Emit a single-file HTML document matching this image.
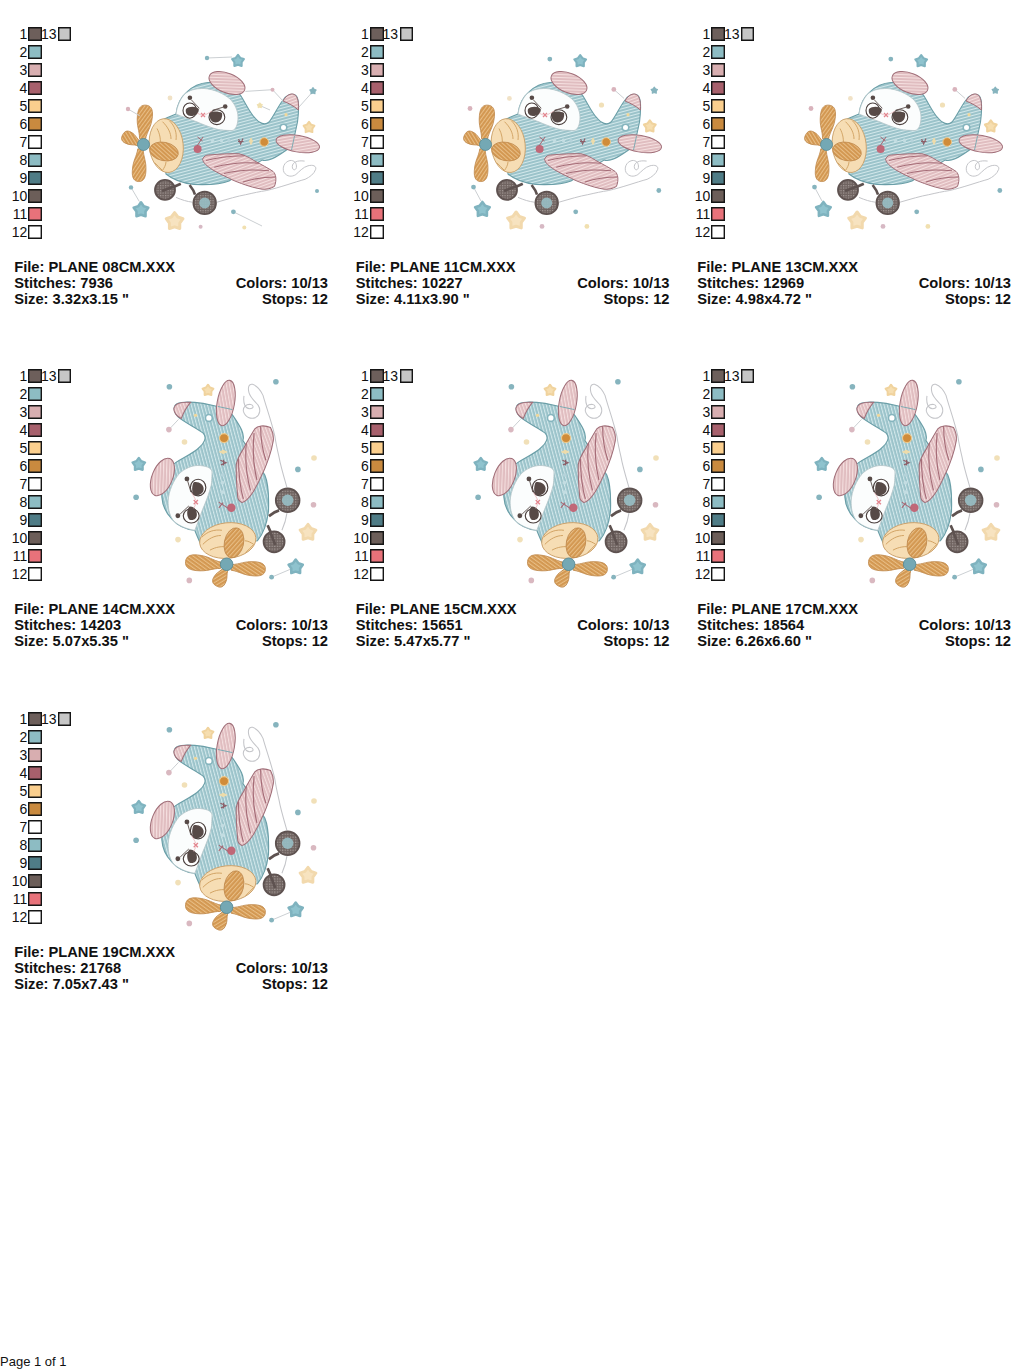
<!DOCTYPE html><html><head><meta charset="utf-8"><style>
html,body{margin:0;padding:0;background:#fff;width:1024px;height:1370px;overflow:hidden;position:relative}
body{font-family:"Liberation Sans",sans-serif;color:#111}
.c{position:absolute;left:0;top:0;width:341px;height:342px}
.sw{position:absolute;width:12px;height:12px;border:1px solid #151515;box-shadow:inset 0 0 0 0.4px #151515}
.n{position:absolute;font-size:14px;line-height:14px;text-align:right;width:20px}
.t{position:absolute;font-weight:bold;font-size:14.7px;line-height:16px;white-space:nowrap}
.r{text-align:right}
svg.p{position:absolute;overflow:visible}
</style></head><body>
<svg width="0" height="0" style="position:absolute">
<defs>
<pattern id="hatT" width="3" height="3" patternUnits="userSpaceOnUse" patternTransform="rotate(-15)">
<rect width="3" height="3" fill="#9bc3ca"/><rect width="3" height="1" fill="#d3e8eb"/>
</pattern>
<pattern id="hatP" width="3" height="3" patternUnits="userSpaceOnUse" patternTransform="rotate(-20)">
<rect width="3" height="3" fill="#e0bdc0"/><rect width="3" height="1" fill="#f5e0e0"/>
</pattern>
<pattern id="hatO" width="3" height="3" patternUnits="userSpaceOnUse" patternTransform="rotate(30)">
<rect width="3" height="3" fill="#d39852"/><rect width="3" height="1" fill="#e8be86"/>
</pattern>
<pattern id="hatW" width="2.5" height="2.5" patternUnits="userSpaceOnUse">
<rect width="2.5" height="2.5" fill="#6f6360"/><rect width="1.2" height="1.2" fill="#a39996"/>
</pattern>
<g id="star"><path d="M0.000,-0.880 L0.321,-0.441 L0.837,-0.272 L0.519,0.169 L0.517,0.712 L0.000,0.546 L-0.517,0.712 L-0.519,0.169 L-0.837,-0.272 L-0.321,-0.441 Z" stroke-linejoin="round" stroke-width="0.3"/></g>
<g id="body">
<!-- string -->
<path d="M176 197.4 C182 200, 187 201.5, 192.4 202.2 M217 202.2 C228 199, 238 196, 245.7 194.7 C253 193, 260 191.5, 266.2 190.6 C280 187.5, 295 182, 305.1 179.3 C310 177, 314 174, 315.7 169.3 C316.5 166, 313 164.5, 308 165.8 C303 167, 299 172, 295.8 174.6 C292 177, 287 177, 284 172.3 C282 168, 284 162, 290 160.5 C294 160, 297 163, 296.4 167.6 C296 170, 292.5 171.5, 292.3 166.4 C292.5 162.5, 297 160, 304.6 161.1" fill="none" stroke="#c4c5c9" stroke-width="1"/>
<!-- propeller blades -->
<g fill="url(#hatO)" stroke="#c08a4e" stroke-width="0.8"><path transform="translate(142.5 139) rotate(-84)" d="M0 -3.0 C8.5 -3.8, 11.9 -7.5, 23.1 -7.5 C31.3 -7.5, 34 -4.5, 34 0 C34 4.5, 31.3 7.5, 23.1 7.5 C11.9 7.5, 8.5 3.8, 0 3.0 Z"/><path transform="translate(139 143.5) rotate(-151.6)" d="M0 -2.5 C4.6 -3.1, 6.5 -6.2, 12.6 -6.2 C17.0 -6.2, 18.5 -3.8, 18.5 0 C18.5 3.8, 17.0 6.2, 12.6 6.2 C6.5 6.2, 4.6 3.1, 0 2.5 Z"/><path transform="translate(140.5 149) rotate(93.6)" d="M0 -2.7 C8.2 -3.4, 11.4 -6.8, 22.2 -6.8 C30.0 -6.8, 32.6 -4.0, 32.6 0 C32.6 4.0, 30.0 6.8, 22.2 6.8 C11.4 6.8, 8.2 3.4, 0 2.7 Z"/></g>
<!-- fuselage -->
<path d="M160 121 C166 118, 171 116, 176 114 C177 106, 181 97, 187 92 C193 86, 200 83, 208 82.5 C222 82, 236 88, 241 96 C246 104, 250 113, 255 118 C259 123, 265 126, 269 122 C274 116, 279 104, 285 97.5 C289 93.5, 295 93, 297 97 C299 101, 299 110, 297.5 122 L294.5 136 C293 144, 291 148, 286.5 150 C275 158, 268 162, 262 160 L229 181 C220 185, 208 185, 194 184.5 C182 183, 172 179, 166 174 Z" fill="url(#hatT)" stroke="#6a9ea7" stroke-width="1.1"/>
<!-- face -->
<path d="M176 114 C177 106, 181 97, 186 93 C192 89, 198 88.5, 204 88.5 C214 89, 224 94, 230 99 C235 104, 238 111, 238 117 C238 124, 236 130, 232 130.5 C226 130.5, 220 130, 218.6 129.6 C212 128, 204 125, 196 121.5 C189 119, 182 116.5, 176 114 Z" fill="#fbfdfd" stroke="#b4c4c8" stroke-width="0.8"/>
<!-- eyes -->
<g stroke="#4a3f3d" stroke-width="1.1" fill="#fff">
<ellipse cx="189.8" cy="110.6" rx="6.8" ry="7.6"/><ellipse cx="216.9" cy="117.2" rx="7.9" ry="7.4"/>
</g>
<g fill="#574a47">
<path d="M186 109 C189 106, 196 106, 198.8 109 C199 114, 195 116, 191 116 C187 116, 185 113, 186 109Z"/>
<path d="M209.5 113 C212 111, 219 111, 222 113 C223 118, 220 122.5, 215.5 122.5 C211 122.5, 209 118, 209.5 113Z"/>
<circle cx="189.9" cy="97.8" r="2.3"/><circle cx="225.2" cy="106.5" r="2.3"/>
</g>
<path d="M191.5 100 L199.3 108.3 M223.2 107.2 L212.5 110.3" stroke="#5d504d" stroke-width="0.9"/>
<path d="M201 113 L205 117 M201 117 L205 113" stroke="#e3868f" stroke-width="1.3" fill="none"/><path d="M197 113 L201 115 M205 115 L212 111" stroke="#eab3b8" stroke-width="0.7" fill="none"/>
<!-- cowling -->
<ellipse cx="166.2" cy="145.6" rx="17" ry="27" transform="rotate(-6 166.2 145.6)" fill="#f6ddb4" stroke="#caa06a" stroke-width="0.9"/>
<path d="M157 128.5 C160 134, 161 140, 160 146 M162.5 121.7 C168 127, 171 133, 171 139 M169.3 120.7 C175 126, 177 133, 176 140 M154.6 162.7 C157 165, 160 168, 162.5 170.5 M166 161.8 C166 165, 164 168, 162.5 170.5" stroke="#cf9f5f" stroke-width="0.9" fill="none"/>
<!-- right blade + hub -->
<ellipse cx="164" cy="151.5" rx="14.5" ry="9.2" transform="rotate(12 164 151.5)" fill="url(#hatO)" stroke="#c08a4e" stroke-width="0.8"/>
<circle cx="143.5" cy="144.5" r="6" fill="#74a8b4" stroke="#548996" stroke-width="0.8"/>
<!-- hat -->
<ellipse cx="227" cy="83" rx="19" ry="9.8" transform="rotate(22 227 83)" fill="url(#hatP)" stroke="#a06e78" stroke-width="1"/>
<!-- tail tip -->
<path d="M283 101 C285 97, 289 93.5, 292.7 94 C297 94.5, 299 100, 298.4 110 C294 106, 288 103, 283 101 Z" fill="url(#hatP)" stroke="#a06e78" stroke-width="1"/>
<!-- stabilizer -->
<ellipse cx="297.8" cy="143.7" rx="22" ry="8.3" transform="rotate(10 297.8 143.7)" fill="url(#hatP)" stroke="#a06e78" stroke-width="1"/>
<path d="M294.5 136 L291.5 150" stroke="#74a7b0" stroke-width="0.9"/>
<!-- wing -->
<path d="M202.6 159.1 C204 156, 206 155, 208.8 155 C220 154, 230 153.5, 238.9 153.7 C245 155, 250 158, 253.9 160.5 C262 165, 268 168, 273 171.4 C276 174, 277 180, 274.4 186.5 C270 189, 266 189.5, 262 189.2 C255 188, 250 186.5, 245.7 185 C240 183, 234 181, 229.3 178.3 C224 176, 218 173, 212.9 170 C207 166, 203 163, 202.6 159.1 Z" fill="url(#hatP)" stroke="#a06e78" stroke-width="1"/>
<path d="M206 160.5 C218 157, 232 156, 244.3 155.7 M214.2 167.3 C230 163, 245 162, 259.4 163.3 M224 173.5 C238 170, 252 169, 269 170.8 M243 182 C252 179, 262 177, 275.8 177" stroke="#a56c77" stroke-width="1.1" fill="none"/>
<!-- wheels -->
<path d="M174.6 186.5 L180.8 183.7 M189.6 185 C192 188, 194 191, 195 194.7" stroke="#5e5250" stroke-width="2.6" fill="none"/>
<circle cx="165" cy="189.9" r="10" fill="url(#hatW)" stroke="#5e5250" stroke-width="1.8"/><path d="M162 191 L175 186" stroke="#5e5250" stroke-width="2.5"/>
<circle cx="204.7" cy="202.9" r="11.3" fill="url(#hatW)" stroke="#5e5250" stroke-width="1.8"/>
<circle cx="204.7" cy="202.9" r="5.5" fill="#98bfc5" opacity="0.9"/>
<!-- dots -->
<circle cx="197.6" cy="149" r="4" fill="#c06878"/>
<circle cx="264.2" cy="142" r="4.3" fill="#d08c3a" stroke="#edc98c" stroke-width="1"/>
<circle cx="283.5" cy="127.5" r="3.3" fill="#fff" stroke="#86b5be" stroke-width="1.6"/>
<circle cx="286" cy="114.7" r="1.6" fill="#f0d79a"/>
<path d="M197 146 L203 137 M197.5 137 L202.5 141" stroke="#a76571" stroke-width="1" fill="none"/>
<circle cx="212.4" cy="140.4" r="1.8" fill="#c3dde2"/><circle cx="221.5" cy="140.4" r="1.8" fill="#c3dde2"/><circle cx="229" cy="140.8" r="1.8" fill="#b5d3da"/><path d="M238.6 139 L240.6 144 L243 138.5 M238 141.5 L243.5 141.5" stroke="#8d5f69" stroke-width="1.1" fill="none"/><path d="M251 138 L252.5 141.2 L251 144.4 L249.5 141.2 Z" fill="#eedcaa" stroke="#eedcaa" stroke-width="1"/>
</g>
<g id="decoH">
<path d="M207 58 L232 57 M245.3 91.4 L272.5 89.7 L283 101 M299 107 L313 91.4 M131 187.4 L139.3 201.5 M233.4 211.8 L262 226 M128 109 L140 116 M259.8 105.5 L270 110" stroke="#c5c9cd" stroke-width="0.9" fill="none"/>
<use href="#star" transform="translate(238 61) scale(7)" fill="#8fc3ce" stroke="#7fb3bf" />
<use href="#star" transform="translate(313 91) scale(3.8)" fill="#86b4be" stroke="#86b4be"/>
<use href="#star" transform="translate(309 127.5) scale(6.5)" fill="#f6deb0" stroke="#f0d39e" />
<use href="#star" transform="translate(141 210) scale(8.7)" fill="#8fc3ce" stroke="#7fb3bf" />
<use href="#star" transform="translate(174.6 221.4) scale(10)" fill="#f7e3c0" stroke="#f2d9ad" />
<use href="#star" transform="translate(259.8 105.5) scale(3.2)" fill="#efe0b0" stroke="#efe0b0"/>
<circle cx="207" cy="58" r="2.2" fill="#86b4be"/><circle cx="131" cy="187.4" r="2.2" fill="#86b4be"/><circle cx="233.4" cy="211.8" r="2.4" fill="#86b4be"/>
<circle cx="128" cy="109" r="2.2" fill="#d9b3bc"/><circle cx="272.5" cy="89.7" r="2" fill="#d9b3bc"/>
<circle cx="170" cy="98" r="2.4" fill="#f1e2c6"/><circle cx="200.6" cy="226.8" r="2" fill="#d7b9c4"/><circle cx="244.3" cy="227.5" r="2" fill="#f1e0b0"/><circle cx="317" cy="191" r="2" fill="#86b4be"/>
</g>
<g id="decoV">
<path d="M168.9 87.6 L178.5 77.4 M295.7 225 L271.6 235.2" stroke="#c5c9cd" stroke-width="0.9" fill="none"/>
<use href="#star" transform="translate(208 48.4) scale(6.5)" fill="#f6deb0" stroke="#f0d39e" />
<use href="#star" transform="translate(138.8 122.5) scale(7.5)" fill="#8fc3ce" stroke="#7fb3bf" />
<use href="#star" transform="translate(308 190.6) scale(9.5)" fill="#f7e3c0" stroke="#f2d9ad" />
<use href="#star" transform="translate(295.7 225) scale(8.5)" fill="#8fc3ce" stroke="#7fb3bf" />
<circle cx="169.4" cy="44.7" r="2.8" fill="#86b4be"/>
<circle cx="168.9" cy="87.6" r="2.8" fill="#d9b8c0"/>
<circle cx="184.5" cy="100" r="2.8" fill="#f1e0b8"/>
<circle cx="275.9" cy="39.8" r="2.8" fill="#86b4be"/>
<circle cx="314" cy="116" r="2.8" fill="#f1e0b8"/>
<circle cx="297.9" cy="127.4" r="2.8" fill="#86b4be"/>
<circle cx="136.1" cy="155.2" r="2.8" fill="#86b4be"/>
<circle cx="178" cy="197.6" r="2.8" fill="#f1e0b8"/>
<circle cx="189.3" cy="238.4" r="2.8" fill="#d9b8c0"/>
<circle cx="313.5" cy="162.7" r="2.8" fill="#d9b8c0"/>
<circle cx="271.6" cy="235.2" r="2.4" fill="#86b4be"/>
</g>
<g id="decoH2">
<path d="M271.8 89.4 L282 98.4 M131.5 187.1 L139 201" stroke="#c5c9cd" stroke-width="0.9" fill="none"/>
<use href="#star" transform="translate(238.2 61.3) scale(7)" fill="#8fc3ce" stroke="#7fb3bf" />
<use href="#star" transform="translate(312.3 90.5) scale(3.8)" fill="#86b4be" stroke="#86b4be"/>
<use href="#star" transform="translate(307.8 126.5) scale(7)" fill="#f6deb0" stroke="#f0d39e" />
<use href="#star" transform="translate(140.4 209.6) scale(8.7)" fill="#8fc3ce" stroke="#7fb3bf" />
<use href="#star" transform="translate(174.1 220.8) scale(10)" fill="#f7e3c0" stroke="#f2d9ad" />
<circle cx="207.8" cy="59.1" r="2.4" fill="#86b4be"/><circle cx="271.8" cy="89.4" r="2.4" fill="#d9b3bc"/>
<circle cx="259.5" cy="105" r="2.6" fill="#f1e0b8"/><circle cx="167.4" cy="98.4" r="2.4" fill="#f1e2c6"/>
<circle cx="128" cy="108.5" r="2.4" fill="#d9b3bc"/><circle cx="131.5" cy="187.1" r="2.4" fill="#86b4be"/>
<circle cx="200" cy="226.4" r="2.4" fill="#d7b9c4"/><circle cx="233.7" cy="211.8" r="2.4" fill="#86b4be"/>
<circle cx="244.9" cy="226.4" r="2.4" fill="#f1e0b0"/><circle cx="316.8" cy="190.5" r="2.4" fill="#86b4be"/>
</g>
<g id="planeh2"><use href="#body"/><use href="#decoH2"/></g>
<g id="planeh"><use href="#body"/><use href="#decoH"/></g>
<g id="planev"><g transform="translate(225.6 60.8) rotate(-90) scale(1.045) translate(-298 -143.5)"><use href="#body"/></g><use href="#decoV"/></g>
</defs>
</svg>
<div class="c" style="left:0px;top:0px"><div class="n" style="left:7.4px;top:27.4px">1</div><div class="sw" style="left:28px;top:27px;background:#6d5f5b"></div><div class="n" style="left:7.4px;top:45.4px">2</div><div class="sw" style="left:28px;top:45px;background:#8dbcc3"></div><div class="n" style="left:7.4px;top:63.4px">3</div><div class="sw" style="left:28px;top:63px;background:#d8aeb0"></div><div class="n" style="left:7.4px;top:81.4px">4</div><div class="sw" style="left:28px;top:81px;background:#a7606c"></div><div class="n" style="left:7.4px;top:99.4px">5</div><div class="sw" style="left:28px;top:99px;background:#fbcf8e"></div><div class="n" style="left:7.4px;top:117.4px">6</div><div class="sw" style="left:28px;top:117px;background:#c98a3f"></div><div class="n" style="left:7.4px;top:135.4px">7</div><div class="sw" style="left:28px;top:135px;background:#ffffff"></div><div class="n" style="left:7.4px;top:153.4px">8</div><div class="sw" style="left:28px;top:153px;background:#8dbcc3"></div><div class="n" style="left:7.4px;top:171.4px">9</div><div class="sw" style="left:28px;top:171px;background:#4f7c86"></div><div class="n" style="left:7.4px;top:189.4px">10</div><div class="sw" style="left:28px;top:189px;background:#6c5e59"></div><div class="n" style="left:7.4px;top:207.4px">11</div><div class="sw" style="left:28px;top:207px;background:#e8727a"></div><div class="n" style="left:7.4px;top:225.4px">12</div><div class="sw" style="left:28px;top:225px;background:#ffffff"></div><div class="n" style="left:36.6px;top:27.4px">13</div><div class="sw" style="left:58px;top:27px;width:11px;background:#c6c6c6"></div><div class="t" style="left:14.2px;top:258.7px">File: PLANE 08CM.XXX</div><div class="t" style="left:14.2px;top:274.7px">Stitches: 7936</div><div class="t" style="left:14.2px;top:290.7px">Size: 3.32x3.15 "</div><div class="t r" style="right:13px;top:274.7px">Colors: 10/13</div><div class="t r" style="right:13px;top:290.7px">Stops: 12</div><svg class="p" width="341" height="342" style="left:0;top:0"><use href="#planeh"/></svg></div>
<div class="c" style="left:341.5px;top:0px"><div class="n" style="left:7.4px;top:27.4px">1</div><div class="sw" style="left:28px;top:27px;background:#6d5f5b"></div><div class="n" style="left:7.4px;top:45.4px">2</div><div class="sw" style="left:28px;top:45px;background:#8dbcc3"></div><div class="n" style="left:7.4px;top:63.4px">3</div><div class="sw" style="left:28px;top:63px;background:#d8aeb0"></div><div class="n" style="left:7.4px;top:81.4px">4</div><div class="sw" style="left:28px;top:81px;background:#a7606c"></div><div class="n" style="left:7.4px;top:99.4px">5</div><div class="sw" style="left:28px;top:99px;background:#fbcf8e"></div><div class="n" style="left:7.4px;top:117.4px">6</div><div class="sw" style="left:28px;top:117px;background:#c98a3f"></div><div class="n" style="left:7.4px;top:135.4px">7</div><div class="sw" style="left:28px;top:135px;background:#ffffff"></div><div class="n" style="left:7.4px;top:153.4px">8</div><div class="sw" style="left:28px;top:153px;background:#8dbcc3"></div><div class="n" style="left:7.4px;top:171.4px">9</div><div class="sw" style="left:28px;top:171px;background:#4f7c86"></div><div class="n" style="left:7.4px;top:189.4px">10</div><div class="sw" style="left:28px;top:189px;background:#6c5e59"></div><div class="n" style="left:7.4px;top:207.4px">11</div><div class="sw" style="left:28px;top:207px;background:#e8727a"></div><div class="n" style="left:7.4px;top:225.4px">12</div><div class="sw" style="left:28px;top:225px;background:#ffffff"></div><div class="n" style="left:36.6px;top:27.4px">13</div><div class="sw" style="left:58px;top:27px;width:11px;background:#c6c6c6"></div><div class="t" style="left:14.2px;top:258.7px">File: PLANE 11CM.XXX</div><div class="t" style="left:14.2px;top:274.7px">Stitches: 10227</div><div class="t" style="left:14.2px;top:290.7px">Size: 4.11x3.90 "</div><div class="t r" style="right:13px;top:274.7px">Colors: 10/13</div><div class="t r" style="right:13px;top:290.7px">Stops: 12</div><svg class="p" width="341" height="342" style="left:0;top:0"><use href="#planeh2"/></svg></div>
<div class="c" style="left:683px;top:0px"><div class="n" style="left:7.4px;top:27.4px">1</div><div class="sw" style="left:28px;top:27px;background:#6d5f5b"></div><div class="n" style="left:7.4px;top:45.4px">2</div><div class="sw" style="left:28px;top:45px;background:#8dbcc3"></div><div class="n" style="left:7.4px;top:63.4px">3</div><div class="sw" style="left:28px;top:63px;background:#d8aeb0"></div><div class="n" style="left:7.4px;top:81.4px">4</div><div class="sw" style="left:28px;top:81px;background:#a7606c"></div><div class="n" style="left:7.4px;top:99.4px">5</div><div class="sw" style="left:28px;top:99px;background:#fbcf8e"></div><div class="n" style="left:7.4px;top:117.4px">6</div><div class="sw" style="left:28px;top:117px;background:#c98a3f"></div><div class="n" style="left:7.4px;top:135.4px">7</div><div class="sw" style="left:28px;top:135px;background:#ffffff"></div><div class="n" style="left:7.4px;top:153.4px">8</div><div class="sw" style="left:28px;top:153px;background:#8dbcc3"></div><div class="n" style="left:7.4px;top:171.4px">9</div><div class="sw" style="left:28px;top:171px;background:#4f7c86"></div><div class="n" style="left:7.4px;top:189.4px">10</div><div class="sw" style="left:28px;top:189px;background:#6c5e59"></div><div class="n" style="left:7.4px;top:207.4px">11</div><div class="sw" style="left:28px;top:207px;background:#e8727a"></div><div class="n" style="left:7.4px;top:225.4px">12</div><div class="sw" style="left:28px;top:225px;background:#ffffff"></div><div class="n" style="left:36.6px;top:27.4px">13</div><div class="sw" style="left:58px;top:27px;width:11px;background:#c6c6c6"></div><div class="t" style="left:14.2px;top:258.7px">File: PLANE 13CM.XXX</div><div class="t" style="left:14.2px;top:274.7px">Stitches: 12969</div><div class="t" style="left:14.2px;top:290.7px">Size: 4.98x4.72 "</div><div class="t r" style="right:13px;top:274.7px">Colors: 10/13</div><div class="t r" style="right:13px;top:290.7px">Stops: 12</div><svg class="p" width="341" height="342" style="left:0;top:0"><use href="#planeh2"/></svg></div>
<div class="c" style="left:0px;top:342px"><div class="n" style="left:7.4px;top:27.4px">1</div><div class="sw" style="left:28px;top:27px;background:#6d5f5b"></div><div class="n" style="left:7.4px;top:45.4px">2</div><div class="sw" style="left:28px;top:45px;background:#8dbcc3"></div><div class="n" style="left:7.4px;top:63.4px">3</div><div class="sw" style="left:28px;top:63px;background:#d8aeb0"></div><div class="n" style="left:7.4px;top:81.4px">4</div><div class="sw" style="left:28px;top:81px;background:#a7606c"></div><div class="n" style="left:7.4px;top:99.4px">5</div><div class="sw" style="left:28px;top:99px;background:#fbcf8e"></div><div class="n" style="left:7.4px;top:117.4px">6</div><div class="sw" style="left:28px;top:117px;background:#c98a3f"></div><div class="n" style="left:7.4px;top:135.4px">7</div><div class="sw" style="left:28px;top:135px;background:#ffffff"></div><div class="n" style="left:7.4px;top:153.4px">8</div><div class="sw" style="left:28px;top:153px;background:#8dbcc3"></div><div class="n" style="left:7.4px;top:171.4px">9</div><div class="sw" style="left:28px;top:171px;background:#4f7c86"></div><div class="n" style="left:7.4px;top:189.4px">10</div><div class="sw" style="left:28px;top:189px;background:#6c5e59"></div><div class="n" style="left:7.4px;top:207.4px">11</div><div class="sw" style="left:28px;top:207px;background:#e8727a"></div><div class="n" style="left:7.4px;top:225.4px">12</div><div class="sw" style="left:28px;top:225px;background:#ffffff"></div><div class="n" style="left:36.6px;top:27.4px">13</div><div class="sw" style="left:58px;top:27px;width:11px;background:#c6c6c6"></div><div class="t" style="left:14.2px;top:258.7px">File: PLANE 14CM.XXX</div><div class="t" style="left:14.2px;top:274.7px">Stitches: 14203</div><div class="t" style="left:14.2px;top:290.7px">Size: 5.07x5.35 "</div><div class="t r" style="right:13px;top:274.7px">Colors: 10/13</div><div class="t r" style="right:13px;top:290.7px">Stops: 12</div><svg class="p" width="341" height="342" style="left:0;top:0"><use href="#planev"/></svg></div>
<div class="c" style="left:341.5px;top:342px"><div class="n" style="left:7.4px;top:27.4px">1</div><div class="sw" style="left:28px;top:27px;background:#6d5f5b"></div><div class="n" style="left:7.4px;top:45.4px">2</div><div class="sw" style="left:28px;top:45px;background:#8dbcc3"></div><div class="n" style="left:7.4px;top:63.4px">3</div><div class="sw" style="left:28px;top:63px;background:#d8aeb0"></div><div class="n" style="left:7.4px;top:81.4px">4</div><div class="sw" style="left:28px;top:81px;background:#a7606c"></div><div class="n" style="left:7.4px;top:99.4px">5</div><div class="sw" style="left:28px;top:99px;background:#fbcf8e"></div><div class="n" style="left:7.4px;top:117.4px">6</div><div class="sw" style="left:28px;top:117px;background:#c98a3f"></div><div class="n" style="left:7.4px;top:135.4px">7</div><div class="sw" style="left:28px;top:135px;background:#ffffff"></div><div class="n" style="left:7.4px;top:153.4px">8</div><div class="sw" style="left:28px;top:153px;background:#8dbcc3"></div><div class="n" style="left:7.4px;top:171.4px">9</div><div class="sw" style="left:28px;top:171px;background:#4f7c86"></div><div class="n" style="left:7.4px;top:189.4px">10</div><div class="sw" style="left:28px;top:189px;background:#6c5e59"></div><div class="n" style="left:7.4px;top:207.4px">11</div><div class="sw" style="left:28px;top:207px;background:#e8727a"></div><div class="n" style="left:7.4px;top:225.4px">12</div><div class="sw" style="left:28px;top:225px;background:#ffffff"></div><div class="n" style="left:36.6px;top:27.4px">13</div><div class="sw" style="left:58px;top:27px;width:11px;background:#c6c6c6"></div><div class="t" style="left:14.2px;top:258.7px">File: PLANE 15CM.XXX</div><div class="t" style="left:14.2px;top:274.7px">Stitches: 15651</div><div class="t" style="left:14.2px;top:290.7px">Size: 5.47x5.77 "</div><div class="t r" style="right:13px;top:274.7px">Colors: 10/13</div><div class="t r" style="right:13px;top:290.7px">Stops: 12</div><svg class="p" width="341" height="342" style="left:0;top:0"><use href="#planev"/></svg></div>
<div class="c" style="left:683px;top:342px"><div class="n" style="left:7.4px;top:27.4px">1</div><div class="sw" style="left:28px;top:27px;background:#6d5f5b"></div><div class="n" style="left:7.4px;top:45.4px">2</div><div class="sw" style="left:28px;top:45px;background:#8dbcc3"></div><div class="n" style="left:7.4px;top:63.4px">3</div><div class="sw" style="left:28px;top:63px;background:#d8aeb0"></div><div class="n" style="left:7.4px;top:81.4px">4</div><div class="sw" style="left:28px;top:81px;background:#a7606c"></div><div class="n" style="left:7.4px;top:99.4px">5</div><div class="sw" style="left:28px;top:99px;background:#fbcf8e"></div><div class="n" style="left:7.4px;top:117.4px">6</div><div class="sw" style="left:28px;top:117px;background:#c98a3f"></div><div class="n" style="left:7.4px;top:135.4px">7</div><div class="sw" style="left:28px;top:135px;background:#ffffff"></div><div class="n" style="left:7.4px;top:153.4px">8</div><div class="sw" style="left:28px;top:153px;background:#8dbcc3"></div><div class="n" style="left:7.4px;top:171.4px">9</div><div class="sw" style="left:28px;top:171px;background:#4f7c86"></div><div class="n" style="left:7.4px;top:189.4px">10</div><div class="sw" style="left:28px;top:189px;background:#6c5e59"></div><div class="n" style="left:7.4px;top:207.4px">11</div><div class="sw" style="left:28px;top:207px;background:#e8727a"></div><div class="n" style="left:7.4px;top:225.4px">12</div><div class="sw" style="left:28px;top:225px;background:#ffffff"></div><div class="n" style="left:36.6px;top:27.4px">13</div><div class="sw" style="left:58px;top:27px;width:11px;background:#c6c6c6"></div><div class="t" style="left:14.2px;top:258.7px">File: PLANE 17CM.XXX</div><div class="t" style="left:14.2px;top:274.7px">Stitches: 18564</div><div class="t" style="left:14.2px;top:290.7px">Size: 6.26x6.60 "</div><div class="t r" style="right:13px;top:274.7px">Colors: 10/13</div><div class="t r" style="right:13px;top:290.7px">Stops: 12</div><svg class="p" width="341" height="342" style="left:0;top:0"><use href="#planev"/></svg></div>
<div class="c" style="left:0px;top:685px"><div class="n" style="left:7.4px;top:27.4px">1</div><div class="sw" style="left:28px;top:27px;background:#6d5f5b"></div><div class="n" style="left:7.4px;top:45.4px">2</div><div class="sw" style="left:28px;top:45px;background:#8dbcc3"></div><div class="n" style="left:7.4px;top:63.4px">3</div><div class="sw" style="left:28px;top:63px;background:#d8aeb0"></div><div class="n" style="left:7.4px;top:81.4px">4</div><div class="sw" style="left:28px;top:81px;background:#a7606c"></div><div class="n" style="left:7.4px;top:99.4px">5</div><div class="sw" style="left:28px;top:99px;background:#fbcf8e"></div><div class="n" style="left:7.4px;top:117.4px">6</div><div class="sw" style="left:28px;top:117px;background:#c98a3f"></div><div class="n" style="left:7.4px;top:135.4px">7</div><div class="sw" style="left:28px;top:135px;background:#ffffff"></div><div class="n" style="left:7.4px;top:153.4px">8</div><div class="sw" style="left:28px;top:153px;background:#8dbcc3"></div><div class="n" style="left:7.4px;top:171.4px">9</div><div class="sw" style="left:28px;top:171px;background:#4f7c86"></div><div class="n" style="left:7.4px;top:189.4px">10</div><div class="sw" style="left:28px;top:189px;background:#6c5e59"></div><div class="n" style="left:7.4px;top:207.4px">11</div><div class="sw" style="left:28px;top:207px;background:#e8727a"></div><div class="n" style="left:7.4px;top:225.4px">12</div><div class="sw" style="left:28px;top:225px;background:#ffffff"></div><div class="n" style="left:36.6px;top:27.4px">13</div><div class="sw" style="left:58px;top:27px;width:11px;background:#c6c6c6"></div><div class="t" style="left:14.2px;top:258.7px">File: PLANE 19CM.XXX</div><div class="t" style="left:14.2px;top:274.7px">Stitches: 21768</div><div class="t" style="left:14.2px;top:290.7px">Size: 7.05x7.43 "</div><div class="t r" style="right:13px;top:274.7px">Colors: 10/13</div><div class="t r" style="right:13px;top:290.7px">Stops: 12</div><svg class="p" width="341" height="342" style="left:0;top:0"><use href="#planev"/></svg></div>
<div style="position:absolute;left:0;top:1354px;font-size:13px;line-height:15px">Page 1 of 1</div></body></html>
